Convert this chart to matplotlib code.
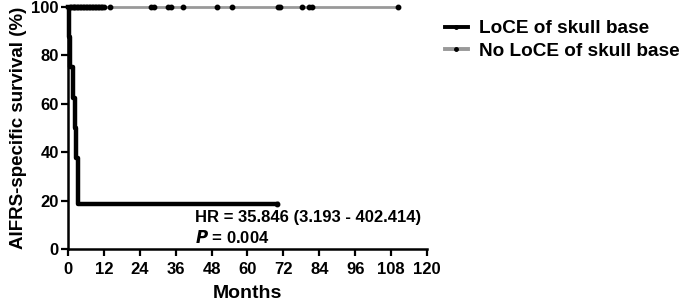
import numpy as np
import matplotlib.pyplot as plt

plt.rcParams['font.family'] = ['Liberation Sans', 'DejaVu Sans']
plt.rcParams['font.weight'] = 'bold'

# LoCE of skull base (Kaplan-Meier steps)
loce_times = [0, 0.2, 0.6, 1.6, 2.2, 2.6, 3.4, 70]
loce_surv = [100, 87.5, 75, 62.5, 50, 37.5, 18.75, 18.75]
loce_censor_t = [70]
loce_censor_s = [18.75]

# No LoCE of skull base
noloce_times = [0, 110.4]
noloce_surv = [100, 100]
noloce_censor_t = [0.5, 1, 1.5, 2, 2.5, 3, 3.5, 4, 4.5, 5, 5.5, 6, 6.5, 7, 7.5, 8,
                   8.5, 9, 9.5, 10, 10.5, 11, 11.5, 12, 14, 27.8, 28.8, 33.4, 34.4,
                   38.5, 49.8, 54.8, 70.2, 71.0, 78.3, 80.6, 81.6, 110.4]

xticks = [0, 12, 24, 36, 48, 60, 72, 84, 96, 108, 120]
yticks = [0, 20, 40, 60, 80, 100]

fig = plt.figure(figsize=(6.85, 3.03), dpi=100)
ax = fig.add_axes([0.0993, 0.178, 0.524, 0.799])

ax.step(noloce_times, noloce_surv, where='post', color='#999999', lw=2, clip_on=False,
        zorder=2)
ax.plot(noloce_censor_t, [100] * len(noloce_censor_t), 'o', color='black', ms=3.2,
        clip_on=False, zorder=3)
ax.step(loce_times, loce_surv, where='post', color='black', lw=3.2, clip_on=False,
        zorder=4)
ax.plot(loce_censor_t, loce_censor_s, 'o', color='black', ms=3.2, clip_on=False, zorder=5)

ax.set_xlim(0, 120)
ax.set_ylim(0, 100)
ax.set_xticks(xticks)
ax.set_yticks(yticks)
ax.tick_params(direction='out', length=5, width=1.6, labelsize=12)
ax.tick_params(axis='x', pad=4)
ax.tick_params(axis='y', pad=1.5)
for s in ['top', 'right']:
    ax.spines[s].set_visible(False)
for s in ['left', 'bottom']:
    ax.spines[s].set_linewidth(1.8)

ax.set_xlabel('Months', fontsize=14, fontweight='bold', labelpad=6)
ax.set_ylabel('AIFRS-specific survival (%)', fontsize=13.5, fontweight='bold', labelpad=3)

ax.text(42.5, 13, 'HR = 35.846 (3.193 - 402.414)', fontsize=12, fontweight='bold',
        va='center')
ax.text(42.5, 4.8, r'$\bfit{P}$ = 0.004', fontsize=12, fontweight='bold', va='center')

h1, = ax.plot([], [], color='black', lw=2.8, marker='o', ms=2.5)
h2, = ax.plot([], [], color='#999999', lw=2.8, marker='o', ms=2.5, mfc='black', mec='black')
fig.legend([h1, h2], ['LoCE of skull base', 'No LoCE of skull base'],
           loc='upper left', bbox_to_anchor=(0.624, 0.99), frameon=False,
           prop={'size': 13.7, 'weight': 'bold'}, handlelength=1.25, handletextpad=0.55,
           labelspacing=0.27)

fig.savefig('out.png', dpi=100)
